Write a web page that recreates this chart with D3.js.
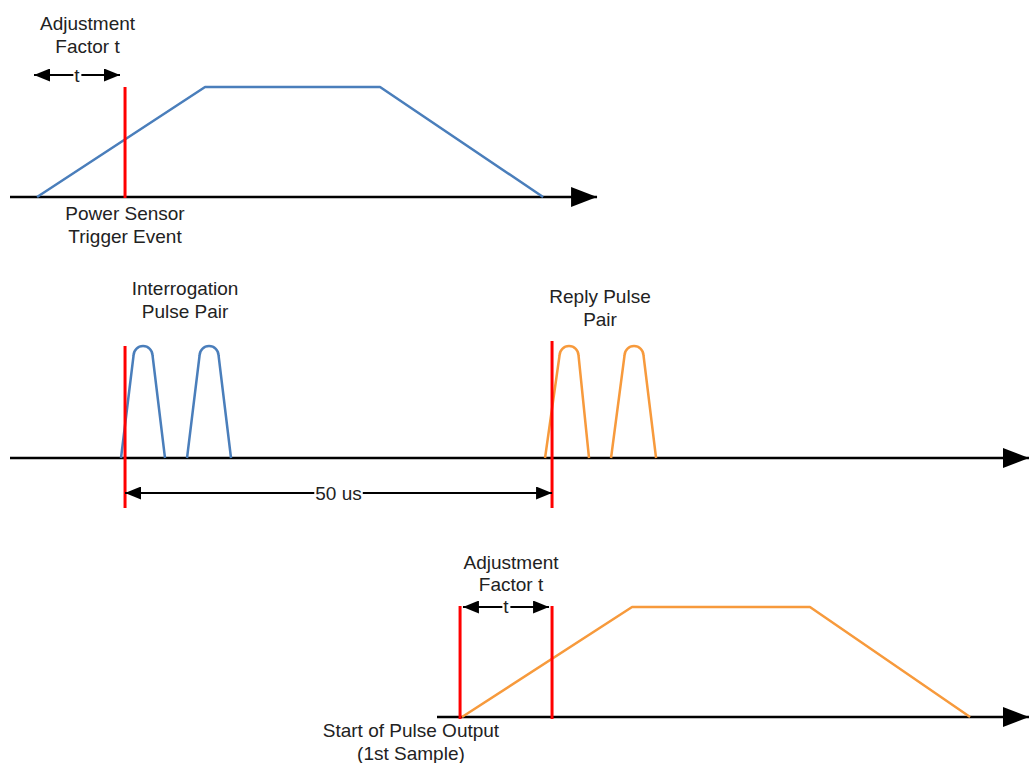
<!DOCTYPE html>
<html>
<head>
<meta charset="utf-8">
<script src="https://cdn.jsdelivr.net/npm/d3@7"></script>
<style>
  html, body { margin: 0; padding: 0; background: #ffffff; }
  svg { display: block; }
  text { font-family: "Liberation Sans", Arial, sans-serif; font-size: 19px; fill: #222222; }
</style>
</head>
<body>
<svg id="chart" width="1029" height="763"></svg>
<script>
// ---- Data (time in microseconds, amplitude 0..1) ----
const timeDomain = [-13.47, 105.85];

// Trapezoid envelopes: [time, amplitude]
const powerEnvelope = [[-10.3, 0], [9.37, 1], [29.86, 1], [48.95, 0]];
const outputEnvelope = [[39.46, 0], [59.37, 1], [80.2, 1], [98.95, 0]];

// Pulse pairs: [rise start, peak centre, fall end]
const interrogationPulses = [[-0.47, 2.11, 4.68], [7.26, 9.84, 12.41]];
const replyPulses = [[49.18, 51.99, 54.33], [56.91, 59.6, 62.18]];

// Time axes extents per panel
const axisExtents = [[-13.47, 55.27], [-13.47, 105.85], [36.53, 105.85]];

// Red markers per panel
const powerMarkers = [0];
const pulseMarkers = [0, 50];
const outputMarkers = [39.23, 50];

// Dimension arrows
const dimensionArrows = [
  { panel: 0, from: -10.66, to: -0.59, label: "t" },
  { panel: 1, from: 0, to: 50, label: "50 us" },
  { panel: 2, from: 39.57, to: 49.65, label: "t" }
];

// Text labels
const labelTexts = [
  { panel: 0, t: -4.39, lines: ["Adjustment", "Factor t"] },
  { panel: 0, t: 0, lines: ["Power Sensor", "Trigger Event"] },
  { panel: 1, t: 7.03, lines: ["Interrogation", "Pulse Pair"] },
  { panel: 1, t: 55.62, lines: ["Reply Pulse", "Pair"] },
  { panel: 2, t: 45.2, lines: ["Adjustment", "Factor t"] },
  { panel: 2, t: 33.48, lines: ["Start of Pulse Output", "(1st Sample)"] }
];

// ---- Layout ----
const svg = d3.select("#chart");
const W = 1029;
const x = d3.scaleLinear().domain(timeDomain).range([10, W]);

const yScales = [
  d3.scaleLinear().domain([0, 1]).range([197, 87]),
  d3.scaleLinear().domain([0, 1]).range([458, 346]),
  d3.scaleLinear().domain([0, 1]).range([717, 607])
];

const BLUE = "#4a7ebb";
const ORANGE = "#f79a3c";
const RED = "#ff0000";

const defs = svg.append("defs");
function arrowMarker(id, w, h, orient) {
  defs.append("marker")
    .attr("id", id)
    .attr("viewBox", `0 ${-h / 2} ${w} ${h}`)
    .attr("refX", w).attr("refY", 0)
    .attr("markerUnits", "userSpaceOnUse")
    .attr("markerWidth", w).attr("markerHeight", h)
    .attr("orient", orient)
    .append("path")
    .attr("d", `M0,${-h / 2}L${w},0L0,${h / 2}Z`)
    .attr("fill", "#000");
}
arrowMarker("bigArrow", 26, 20, "auto");
arrowMarker("smallArrow", 16, 13, "auto-start-reverse");

// ---- Time axes ----
axisExtents.forEach((ext, i) => {
  const y0 = yScales[i](0);
  svg.append("line")
    .attr("x1", x(ext[0])).attr("y1", y0)
    .attr("x2", x(ext[1])).attr("y2", y0)
    .attr("stroke", "#000").attr("stroke-width", 2.5)
    .attr("marker-end", "url(#bigArrow)");
});

// ---- Envelopes ----
function envelope(data, yS, color) {
  svg.append("path")
    .datum(data)
    .attr("d", d3.line().x(d => x(d[0])).y(d => yS(d[1])))
    .attr("fill", "none").attr("stroke", color)
    .attr("stroke-width", 2.5).attr("stroke-linejoin", "round");
}
envelope(powerEnvelope, yScales[0], BLUE);
envelope(outputEnvelope, yScales[2], ORANGE);

// ---- Pulses (straight sides, rounded top) ----
function pulse(p, yS, color) {
  const [rise, peak, fall] = p;
  const yb = yS(0), yt = yS(1);
  const r = 9.5;
  const cx = x(peak);
  const pth = d3.path();
  pth.moveTo(x(rise), yb);
  pth.lineTo(cx - r, yt + r);
  pth.arc(cx, yt + r, r, Math.PI, 2 * Math.PI);
  pth.lineTo(x(fall), yb);
  svg.append("path")
    .attr("d", pth.toString())
    .attr("fill", "none").attr("stroke", color)
    .attr("stroke-width", 2.5).attr("stroke-linejoin", "round");
}
interrogationPulses.forEach(p => pulse(p, yScales[1], BLUE));
replyPulses.forEach(p => pulse(p, yScales[1], ORANGE));

// ---- Red markers ----
function markers(list, y1, y2) {
  svg.selectAll(null).data(list).enter().append("line")
    .attr("x1", d => x(d)).attr("x2", d => x(d))
    .attr("y1", y1).attr("y2", y2)
    .attr("stroke", RED).attr("stroke-width", 3);
}
markers(powerMarkers, 87, 198);
markers(pulseMarkers.slice(0, 1), 346, 508);
markers(pulseMarkers.slice(1), 341, 508);
markers(outputMarkers, 606, 719);

// ---- Dimension arrows ----
const arrowY = [75, 493, 607];
const arrowLabelDy = [7, 7, 6];
dimensionArrows.forEach(a => {
  const y = arrowY[a.panel];
  svg.append("line")
    .attr("x1", x(a.from)).attr("y1", y)
    .attr("x2", x(a.to)).attr("y2", y)
    .attr("stroke", "#000").attr("stroke-width", 2)
    .attr("marker-start", "url(#smallArrow)")
    .attr("marker-end", "url(#smallArrow)");
  const mid = (x(a.from) + x(a.to)) / 2;
  const t = svg.append("text")
    .attr("x", mid).attr("y", y + arrowLabelDy[a.panel])
    .attr("text-anchor", "middle")
    .text(a.label);
  const bb = t.node().getBBox();
  svg.insert("rect", () => t.node())
    .attr("x", bb.x - 1).attr("y", y - 3)
    .attr("width", bb.width + 2).attr("height", 6)
    .attr("fill", "#fff");
});

// ---- Labels ----
const labelBaselines = [
  [30, 53], [220, 243], [295, 318], [303, 326], [569, 591], [737, 760]
];
labelTexts.forEach((lb, i) => {
  lb.lines.forEach((s, j) => {
    svg.append("text")
      .attr("x", x(lb.t)).attr("y", labelBaselines[i][j])
      .attr("text-anchor", "middle")
      .text(s);
  });
});
</script>
</body>
</html>
